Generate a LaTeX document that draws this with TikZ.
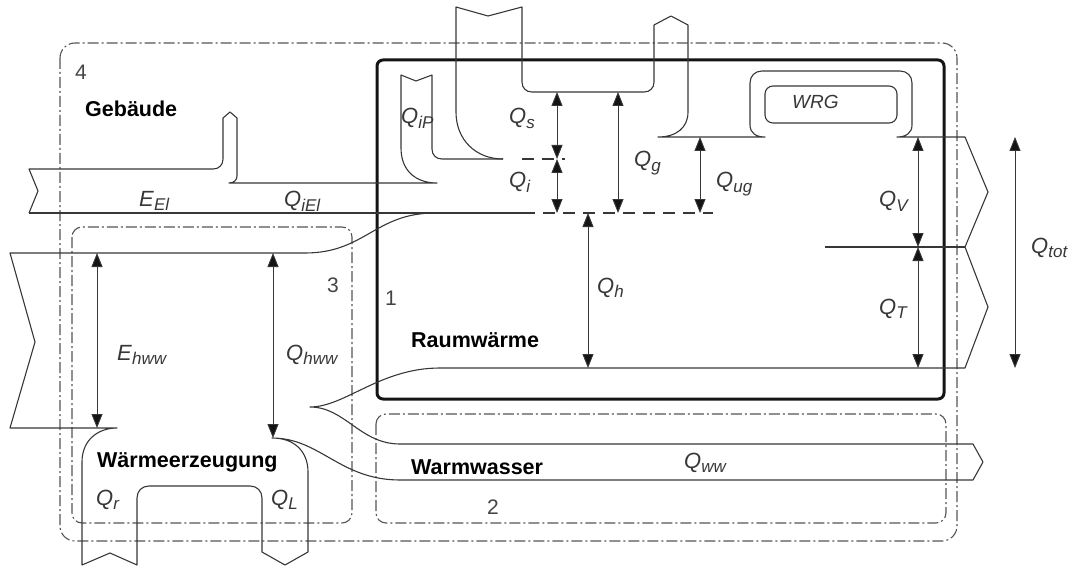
\documentclass[tikz,border=0pt]{standalone}
\usepackage{fontspec}
\setmainfont{Liberation Sans}
\usetikzlibrary{arrows.meta}
\newcommand{\flowsym}[2]{\textit{#1}\raisebox{-0.2em}{\fontsize{17}{17}\selectfont\textit{#2}}}

\begin{document}
\begin{tikzpicture}[x=1pt, y=-1pt, line join=round,
    flowline/.style={draw=linegray, line width=1.1pt},
    gapline/.style={draw=linegray, line width=1.1pt, dash pattern=on 12pt off 8pt},
    zone/.style={draw=zonegray, line width=1.1pt, dash pattern=on 11pt off 3pt on 2pt off 3pt},
    dimarrow/.style={draw=linegray, line width=0.9pt,
      {Triangle[length=14pt,width=11pt,fill=wallblack]}-{Triangle[length=14pt,width=11pt,fill=wallblack]}},
    flowlabel/.style={anchor=base west, inner sep=0pt, text=linegray, font=\fontsize{22}{26}\selectfont},
    zonelabel/.style={anchor=base west, inner sep=0pt, text=zonegray!80!black, font=\fontsize{21}{24}\selectfont},
    title/.style={anchor=base west, inner sep=0pt, font=\fontsize{21.5}{26}\selectfont\bfseries}]
    \definecolor{linegray}{RGB}{55,55,55}
    \definecolor{zonegray}{RGB}{85,85,85}
    \definecolor{wallblack}{RGB}{20,20,20}

    \useasboundingbox (0,0) rectangle (1074,567);

    \draw[zone, rounded corners=15pt] (60,43) rectangle (957,541);
    \draw[zone, rounded corners=10pt] (72,227) rectangle (352,523);
    \draw[zone, rounded corners=10pt] (376,414) rectangle (946,523);
    \draw[draw=wallblack, line width=3pt, rounded corners=6pt] (377,60) rectangle (944,399);

    \draw[flowline] (29,213) -- (38,191) -- (29,169) -- (213,169)
      .. controls (219,169) and (223,165) .. (223,159) -- (223,118) -- (230,112) -- (237,118)
      -- (237,176) .. controls (237,180) and (234,183) .. (229,183) -- (437,183)
      .. controls (415,183) and (401,170) .. (401,148) -- (401,75) -- (416,81) -- (432,75)
      -- (432,149) .. controls (432,155) and (436,159) .. (442,159) -- (503,159);
    \draw[flowline] (29,213) -- (535,213);
    \draw[gapline] (543,213) -- (713,213);
    \draw[gapline] (522,159) -- (565,159);

    \draw[flowline] (503,159) .. controls (476,159) and (456,140) .. (456,112) -- (456,7) -- (488,16) -- (522,7)
      -- (522,82) .. controls (522,88) and (526,92) .. (532,92) -- (644,92)
      .. controls (650,92) and (654,88) .. (654,82) -- (654,25) -- (671,16) -- (688,25)
      -- (688,112) .. controls (688,128) and (676,137) .. (658,137) -- (765,137)
      .. controls (756,137) and (750,133) .. (750,125) -- (750,83) .. controls (750,76) and (755,71) .. (762,71)
      -- (900,71) .. controls (907,71) and (912,76) .. (912,83) -- (912,125)
      .. controls (912,133) and (906,137) .. (897,137) -- (965,137) -- (988,192) -- (965,247)
      -- (988,307) -- (965,368) -- (440,368) .. controls (380,368) and (345,407) .. (310,407)
      .. controls (345,407) and (360,444) .. (400,444) -- (973,444) -- (983,462) -- (973,480)
      -- (400,480) .. controls (340,480) and (320,438) .. (272,438)
      .. controls (295,438) and (308,452) .. (308,472) -- (308,552) -- (285,565) -- (262,552)
      -- (262,498) .. controls (262,491) and (257,486) .. (250,486) -- (149,486)
      .. controls (142,486) and (137,491) .. (137,498) -- (137,565) -- (110,553) -- (82,565)
      -- (82,462) .. controls (82,440) and (98,428) .. (117,428) -- (10,428) -- (35,342) -- (10,253)
      -- (305,253) .. controls (365,253) and (375,213) .. (435,213);
    \draw[flowline] (825,247) -- (965,247);

    \node[draw=linegray, line width=1.1pt, rounded corners=8pt, minimum width=132pt, minimum height=37pt,
      inner sep=0pt] (wrgbox) at (831,104.5) {};
    \node[flowlabel, font=\fontsize{19}{22}\selectfont] (wrg) at (792,109) {\textit{WRG}};

    \foreach \x/\ya/\yb in {
      557/92/159,
      557/159/213,
      618/92/213,
      700/137/213,
      588/213/368,
      918/137/247,
      918/247/368,
      1015/137/368,
      97/253/428,
      273/253/438
    }{
      \draw[dimarrow] (\x,\ya) -- (\x,\yb);
    }

    \node[flowlabel] (qip) at (401,124) {\flowsym{Q}{iP}};
    \node[flowlabel] (qs) at (509,124) {\flowsym{Q}{s}};
    \node[flowlabel] (qi) at (509,188) {\flowsym{Q}{i}};
    \node[flowlabel] (qg) at (634,167) {\flowsym{Q}{g}};
    \node[flowlabel] (qug) at (716,188) {\flowsym{Q}{ug}};
    \node[flowlabel] (qv) at (879,207) {\flowsym{Q}{V}};
    \node[flowlabel] (qt) at (879,314) {\flowsym{Q}{T}};
    \node[flowlabel] (qtot) at (1031,253) {\flowsym{Q}{tot}};
    \node[flowlabel] (eel) at (139,206) {\flowsym{E}{El}};
    \node[flowlabel] (qiel) at (284,207) {\flowsym{Q}{iEl}};
    \node[flowlabel] (ehww) at (117,360) {\flowsym{E}{hww}};
    \node[flowlabel] (qhww) at (286,360) {\flowsym{Q}{hww}};
    \node[flowlabel] (qh) at (597,293) {\flowsym{Q}{h}};
    \node[flowlabel] (qr) at (96,505) {\flowsym{Q}{r}};
    \node[flowlabel] (ql) at (271,505) {\flowsym{Q}{L}};
    \node[flowlabel] (qww) at (684,468) {\flowsym{Q}{ww}};

    \node[zonelabel] (zone4) at (75,80) {4};
    \node[zonelabel] (zone3) at (327,292) {3};
    \node[zonelabel] (zone1) at (385,305) {1};
    \node[zonelabel] (zone2) at (487,514) {2};

    \node[title] (gebaeude) at (85,117) {Gebäude};
    \node[title] (erzeugung) at (97,467) {Wärmeerzeugung};
    \node[title] (raum) at (411,347) {Raumwärme};
    \node[title] (wasser) at (411,474) {Warmwasser};
  \end{tikzpicture}
\end{document}
